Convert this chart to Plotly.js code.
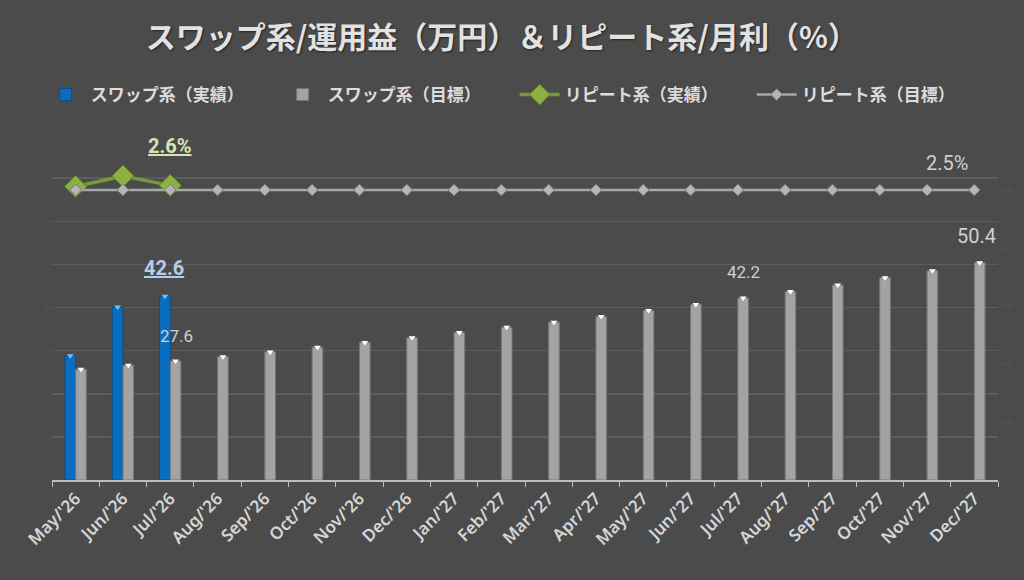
<!DOCTYPE html>
<html>
<head>
<meta charset="utf-8">
<script src="https://cdn.plot.ly/plotly-3.0.1.min.js"></script>
<style>
  html, body { margin: 0; padding: 0; background: #4b4b4b; }
  #chart { width: 1024px; height: 580px; }
</style>
</head>
<body>
<div id="chart"></div>
<script>
// months on the x axis
var months = ["May/'26", "Jun/'26", "Jul/'26", "Aug/'26", "Sep/'26", "Oct/'26", "Nov/'26", "Dec/'26",
              "Jan/'27", "Feb/'27", "Mar/'27", "Apr/'27", "May/'27", "Jun/'27", "Jul/'27", "Aug/'27",
              "Sep/'27", "Oct/'27", "Nov/'27", "Dec/'27"];

// swap profit (10k yen)
var swapActual = [28.8, 40.1, 42.6];
var swapTarget = [25.7, 26.6, 27.6, 28.6, 29.7, 30.8, 31.9, 33.0, 34.2, 35.4,
                  36.6, 37.9, 39.3, 40.7, 42.2, 43.7, 45.2, 46.9, 48.5, 50.4];

// repeat monthly yield (%)
var repeatActual = [2.53, 2.62, 2.54];
var repeatTarget = [2.5, 2.5, 2.5, 2.5, 2.5, 2.5, 2.5, 2.5, 2.5, 2.5,
                    2.5, 2.5, 2.5, 2.5, 2.5, 2.5, 2.5, 2.5, 2.5, 2.5];

var jp = '"Noto Sans CJK JP", "Noto Sans", sans-serif';
var lightText = '#dcdcdc';

var actualMonths = months.slice(0, swapActual.length);

var traces = [
  {
    type: 'bar', name: 'スワップ系（実績）', x: actualMonths, y: swapActual,
    offsetgroup: 'a', legendrank: 1,
    marker: {color: '#0a6ec0', line: {color: '#0c4f88', width: 1}},
    hoverinfo: 'skip'
  },
  {
    type: 'bar', name: 'スワップ系（目標）', x: months, y: swapTarget,
    offsetgroup: 'b', legendrank: 2,
    marker: {color: '#a3a3a3', line: {color: '#767676', width: 1}},
    hoverinfo: 'skip'
  },
  // small bright caps on bar tops
  {
    type: 'scatter', mode: 'markers', x: actualMonths, y: swapActual,
    offsetgroup: 'a', showlegend: false, hoverinfo: 'skip', cliponaxis: false,
    marker: {symbol: 'triangle-down', size: 6, color: '#6cc0f5', line: {width: 0}}
  },
  {
    type: 'scatter', mode: 'markers', x: months, y: swapTarget,
    offsetgroup: 'b', showlegend: false, hoverinfo: 'skip', cliponaxis: false,
    marker: {symbol: 'triangle-down', size: 6, color: '#ffffff', line: {width: 0}}
  },
  {
    type: 'scatter', mode: 'lines+markers', name: 'リピート系（実績）',
    x: actualMonths, y: repeatActual, yaxis: 'y2', legendrank: 3,
    alignmentgroup: 'lines', offsetgroup: 'l',
    line: {color: '#79983a', width: 3.5},
    marker: {symbol: 'diamond', size: 17, color: '#8cb043', line: {color: '#5d7a27', width: 1}},
    hoverinfo: 'skip', cliponaxis: false
  },
  {
    type: 'scatter', mode: 'lines+markers', name: 'リピート系（目標）',
    x: months, y: repeatTarget, yaxis: 'y2', legendrank: 4,
    alignmentgroup: 'lines', offsetgroup: 'l',
    line: {color: '#a8a8a8', width: 2.5},
    marker: {symbol: 'diamond', size: 9, color: '#b5b5b5', line: {color: '#7a7a7a', width: 1}},
    hoverinfo: 'skip', cliponaxis: false
  }
];

function label(text, x, y, yref, xshift, yshift, size, color, opts) {
  var a = {
    text: text, x: x, y: y, xref: 'x', yref: yref, showarrow: false,
    xshift: xshift, yshift: yshift,
    font: {family: 'Roboto, "Noto Sans", sans-serif', size: size, color: color}
  };
  if (opts && opts.bold) a.font.weight = 'bold';
  if (opts && opts.under) a.font.lineposition = 'under';
  return a;
}

var layout = {
  width: 1024, height: 580,
  paper_bgcolor: '#4b4b4b', plot_bgcolor: '#4b4b4b',
  margin: {l: 52, r: 26, t: 135, b: 100},
  scattermode: 'group',
  barmode: 'group', bargap: 0.55, bargroupgap: 0,
  title: {
    text: 'スワップ系/運用益（万円）＆リピート系/月利（%）',
    x: 0.49, xanchor: 'center', y: 0.935, yanchor: 'middle',
    font: {family: jp, size: 30, color: '#e2e2e2', weight: 'bold', shadow: '1px 1px 2px #222'}
  },
  showlegend: true,
  legend: {
    orientation: 'h', x: -0.012, xanchor: 'left', y: 1.116, yanchor: 'middle',
    font: {family: jp, size: 17, color: lightText, weight: 'bold'},
    itemwidth: 40, entrywidth: 182, entrywidthmode: 'pixels',
    traceorder: 'normal', bgcolor: 'rgba(0,0,0,0)'
  },
  xaxis: {
    type: 'category', categoryorder: 'array', categoryarray: months,
    range: [-0.5, months.length - 0.5],
    tickangle: -45, tickson: 'boundaries', ticks: 'outside', ticklen: 5,
    tickcolor: '#bdbdbd', showline: true, linecolor: '#bdbdbd', linewidth: 2,
    showgrid: false, zeroline: false,
    tickfont: {family: '"Noto Sans", sans-serif', size: 17, color: '#d6d6d6', weight: 600}
  },
  yaxis: {
    range: [0, 80], dtick: 10, showgrid: true, gridcolor: '#5d5d5d', gridwidth: 1.5,
    zeroline: false, showline: false,
    tickfont: {size: 6, color: '#585858'}
  },
  yaxis2: {
    overlaying: 'y', side: 'right', range: [0, 2.974], dtick: 0.5,
    tickformat: '.1f', ticksuffix: '%',
    showgrid: false, zeroline: false, showline: false,
    tickfont: {size: 6, color: '#585858'}
  },
  annotations: [
    label('2.6%', months[2], repeatActual[2], 'y2', 0, 39, 20, '#d6e3b8', {bold: true, under: true}),
    label('2.5%', months[19], repeatTarget[19], 'y2', -27, 27, 20, '#d0d0d0'),
    label('42.6', months[2], swapActual[2], 'y', -6, 28, 20, '#b8cde6', {bold: true, under: true}),
    label('27.6', months[2], swapTarget[2], 'y', 6, 25, 17, '#d0d0d0'),
    label('42.2', months[14], swapTarget[14], 'y', 6, 26, 17, '#d0d0d0'),
    label('50.4', months[19], swapTarget[19], 'y', 2, 27, 20, '#d0d0d0')
  ]
};

Plotly.newPlot('chart', traces, layout, {staticPlot: true});
</script>
</body>
</html>
